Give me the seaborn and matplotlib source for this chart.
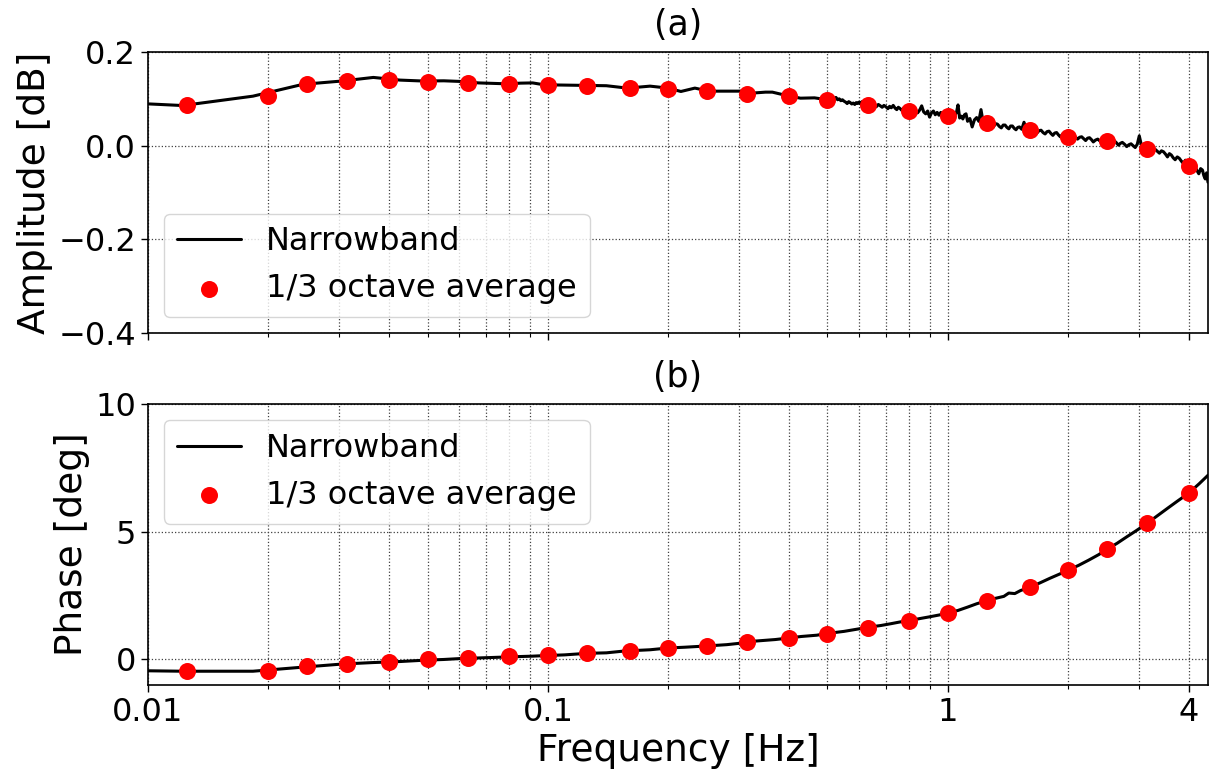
import matplotlib
matplotlib.use("Agg")
import matplotlib.pyplot as plt
import seaborn as sns
import pandas as pd
from matplotlib.ticker import FixedLocator, FixedFormatter, LogLocator, NullFormatter

# ---------------- data ----------------
# 1/3 octave band centre frequencies and averages
oct_freq = [0.0125, 0.02, 0.025, 0.0315, 0.04, 0.05, 0.063, 0.08, 0.1, 0.125, 0.16, 0.2,
            0.25, 0.315, 0.4, 0.5, 0.63, 0.8, 1.0, 1.25, 1.6, 2.0, 2.5, 3.15, 4.0]
oct_amp = [0.086, 0.105, 0.131, 0.138, 0.141, 0.136, 0.133, 0.131, 0.129, 0.128, 0.123, 0.121,
           0.116, 0.111, 0.106, 0.098, 0.087, 0.075, 0.064, 0.048, 0.034, 0.018, 0.009, -0.007, -0.044]
oct_phase = [-0.47, -0.47, -0.26, -0.17, -0.09, 0.03, 0.07, 0.12, 0.18, 0.26, 0.33, 0.46,
             0.52, 0.68, 0.84, 1.00, 1.25, 1.51, 1.83, 2.30, 2.82, 3.50, 4.31, 5.33, 6.51]

# narrowband amplitude, rows aligned with values below
nb_amp_freq = [
    0.0061, 0.0122, 0.0183, 0.0244, 0.0305, 0.0366, 0.0427, 0.0488, 0.0549, 0.061,
    0.0671, 0.0732, 0.0793, 0.0854, 0.0916, 0.0977, 0.11, 0.125, 0.14, 0.158, 0.18, 0.2,
    0.215, 0.233, 0.253, 0.286, 0.31, 0.3225, 0.35, 0.364, 0.395, 0.428, 0.464, 0.483,
    0.50, 0.505, 0.51, 0.515, 0.52, 0.525, 0.53, 0.535, 0.54, 0.545,
    0.55, 0.555, 0.56, 0.565, 0.57, 0.575, 0.58, 0.585, 0.59, 0.595,
    0.60, 0.605, 0.61, 0.615, 0.62, 0.625, 0.63, 0.635, 0.64, 0.648,
    0.655, 0.662, 0.67, 0.678, 0.685, 0.692, 0.70, 0.708, 0.715, 0.722,
    0.73, 0.738, 0.745, 0.752, 0.76, 0.768, 0.775, 0.782, 0.79, 0.798,
    0.805, 0.812, 0.82, 0.83, 0.84, 0.85, 0.86, 0.87, 0.88, 0.89,
    0.90, 0.91, 0.92, 0.93, 0.94, 0.95, 0.96, 0.97, 0.98, 0.99,
    1.00, 1.01, 1.02, 1.03, 1.04, 1.05, 1.06, 1.07, 1.08, 1.09,
    1.10, 1.11, 1.12, 1.135, 1.15, 1.165, 1.18, 1.195, 1.21, 1.225,
    1.24, 1.255, 1.27, 1.285, 1.30, 1.315, 1.33, 1.345, 1.36, 1.375,
    1.39, 1.405, 1.42, 1.435, 1.45, 1.465, 1.48, 1.495, 1.51, 1.53,
    1.55, 1.57, 1.59, 1.61, 1.63, 1.65, 1.67, 1.69, 1.71, 1.73,
    1.75, 1.77, 1.79, 1.81, 1.83, 1.85, 1.87, 1.89, 1.91, 1.935,
    1.96, 1.985, 2.01, 2.035, 2.06, 2.085, 2.11, 2.135, 2.16, 2.185,
    2.21, 2.235, 2.26, 2.285, 2.31, 2.34, 2.37, 2.40, 2.43, 2.46,
    2.49, 2.52, 2.55, 2.58, 2.61, 2.64, 2.67, 2.70, 2.73, 2.765,
    2.80, 2.835, 2.87, 2.905, 2.94, 2.975, 3.01, 3.045, 3.08, 3.115,
    3.15, 3.185, 3.22, 3.26, 3.30, 3.34, 3.38, 3.42, 3.46, 3.50,
    3.54, 3.58, 3.62, 3.66, 3.70, 3.745, 3.79, 3.835, 3.88, 3.925,
    3.97, 4.015, 4.06, 4.105, 4.15, 4.195, 4.24, 4.285, 4.33, 4.365,
    4.40, 4.435, 4.47]
nb_amp = [
    0.098, 0.0857, 0.1057, 0.131, 0.138, 0.1457, 0.140, 0.138, 0.1385, 0.137,
    0.134, 0.1329, 0.132, 0.1335, 0.134, 0.130, 0.1293, 0.1286, 0.128, 0.1229, 0.1271, 0.1229,
    0.1157, 0.1229, 0.1164, 0.1164, 0.1164, 0.1121, 0.1143, 0.1143, 0.1071, 0.1014, 0.1021, 0.1000,
    0.098, 0.100, 0.097, 0.101, 0.099, 0.103, 0.098, 0.100, 0.096, 0.098,
    0.095, 0.093, 0.090, 0.094, 0.092, 0.089, 0.091, 0.088, 0.092, 0.090,
    0.093, 0.089, 0.094, 0.090, 0.087, 0.089, 0.086, 0.090, 0.088, 0.084,
    0.087, 0.083, 0.088, 0.085, 0.082, 0.086, 0.083, 0.079, 0.084, 0.081,
    0.086, 0.080, 0.077, 0.082, 0.079, 0.075, 0.080, 0.077, 0.081, 0.074,
    0.078, 0.072, 0.077, 0.073, 0.070, 0.076, 0.085, 0.072, 0.068, 0.074,
    0.061, 0.070, 0.074, 0.066, 0.071, 0.065, 0.071, 0.067, 0.062, 0.068,
    0.064, 0.066, 0.060, 0.058, 0.065, 0.070, 0.087, 0.059, 0.063, 0.057,
    0.066, 0.068, 0.052, 0.058, 0.040, 0.055, 0.060, 0.052, 0.077, 0.050,
    0.046, 0.052, 0.050, 0.043, 0.040, 0.047, 0.046, 0.041, 0.038, 0.044,
    0.044, 0.039, 0.036, 0.042, 0.042, 0.037, 0.034, 0.039, 0.040, 0.035,
    0.050, 0.036, 0.030, 0.034, 0.036, 0.031, 0.027, 0.032, 0.033, 0.028,
    0.025, 0.030, 0.031, 0.026, 0.022, 0.027, 0.028, 0.023, 0.019, 0.024,
    0.024, 0.020, 0.016, 0.021, 0.022, 0.018, 0.014, 0.018, 0.019, 0.015,
    0.011, 0.016, 0.017, 0.013, 0.008, 0.012, 0.014, 0.010, 0.006, 0.011,
    0.012, 0.008, 0.004, 0.009, 0.010, 0.006, 0.001, 0.005, 0.007, 0.003,
    -0.002, 0.002, 0.004, 0.000, -0.004, 0.003, 0.021, 0.002, -0.006, -0.002,
    -0.004, -0.001, -0.012, -0.006, -0.008, -0.012, -0.016, -0.011, -0.013, -0.018,
    -0.024, -0.017, -0.020, -0.026, -0.030, -0.024, -0.027, -0.033, -0.038, -0.031,
    -0.033, -0.041, -0.048, -0.040, -0.045, -0.053, -0.060, -0.049, -0.052, -0.064,
    -0.071, -0.058, -0.078]

# narrowband phase
nb_ph_freq = [0.0061, 0.0122, 0.0183, 0.0244, 0.0305, 0.0366, 0.0427, 0.0488, 0.0549, 0.061,
              0.0671, 0.0732, 0.0793, 0.0916, 0.0977, 0.11, 0.125, 0.14, 0.155, 0.18, 0.2,
              0.22, 0.25, 0.28, 0.30, 0.33, 0.37, 0.40, 0.43, 0.47, 0.50, 0.55, 0.60, 0.63,
              0.68, 0.72, 0.76, 0.80, 0.85, 0.90, 0.95, 1.00, 1.06, 1.12, 1.18, 1.25, 1.32,
              1.38, 1.42, 1.47, 1.52, 1.60, 1.70, 1.80, 1.90, 2.00, 2.12, 2.25, 2.38, 2.50,
              2.65, 2.80, 2.95, 3.15, 3.35, 3.55, 3.75, 4.00, 4.25, 4.47]
nb_phase = [-0.40, -0.46, -0.46, -0.30, -0.18, -0.12, -0.08, -0.03, 0.00, 0.04,
            0.06, 0.08, 0.10, 0.13, 0.15, 0.18, 0.24, 0.26, 0.33, 0.38, 0.45,
            0.48, 0.53, 0.58, 0.63, 0.72, 0.78, 0.84, 0.90, 0.95, 1.02, 1.10, 1.20, 1.26,
            1.33, 1.40, 1.47, 1.52, 1.60, 1.67, 1.74, 1.82, 1.92, 2.05, 2.18, 2.30, 2.40,
            2.47, 2.60, 2.58, 2.70, 2.82, 3.00, 3.18, 3.34, 3.50, 3.68, 3.89, 4.10, 4.31,
            4.55, 4.80, 5.03, 5.33, 5.64, 5.93, 6.20, 6.51, 6.88, 7.21]

xtick_vals = [0.01, 0.1, 1, 4]
xtick_labels = ["0.01", "0.1", "1", "4"]

# ---------------- plot ----------------
sns.set_theme(style="ticks")
plt.rcParams["font.family"] = ["DejaVu Sans"]
for k in ["text.color", "axes.labelcolor", "xtick.color", "ytick.color", "axes.edgecolor"]:
    plt.rcParams[k] = "black"
plt.rcParams["xtick.direction"] = "out"
plt.rcParams["ytick.direction"] = "out"

fig, (ax1, ax2) = plt.subplots(2, 1, figsize=(12.11, 7.75), dpi=100, sharex=True)
fig.subplots_adjust(left=0.1222, right=0.9975, top=0.9329, bottom=0.1161, hspace=0.2527)

df_amp = pd.DataFrame({"f": nb_amp_freq, "v": nb_amp})
df_ph = pd.DataFrame({"f": nb_ph_freq, "v": nb_phase})
df_oa = pd.DataFrame({"f": oct_freq, "v": oct_amp})
df_op = pd.DataFrame({"f": oct_freq, "v": oct_phase})

tick_fs = 23
label_fs = 27
title_fs = 25

for ax, dnb, doct, ylab, ylim, yt, title, loc in [
    (ax1, df_amp, df_oa, "Amplitude [dB]", (-0.4, 0.2), [-0.4, -0.2, 0.0, 0.2], "(a)", "lower left"),
    (ax2, df_ph, df_op, "Phase [deg]", (-1, 10), [0, 5, 10], "(b)", "upper left"),
]:
    sns.lineplot(data=dnb, x="f", y="v", ax=ax, color="black", linewidth=2.2,
                 estimator=None, sort=False, label="Narrowband", zorder=3)
    sns.scatterplot(data=doct, x="f", y="v", ax=ax, color="red", s=150, linewidth=0,
                    label="1/3 octave average", zorder=4)
    ax.set_xscale("log")
    ax.set_xlim(0.01, 4.47)
    ax.set_ylim(*ylim)
    ax.set_yticks(yt)
    ax.set_ylabel(ylab, fontsize=label_fs)
    ax.set_xlabel("")
    ax.set_title(title, fontsize=title_fs, pad=12)
    ax.xaxis.set_major_locator(FixedLocator(xtick_vals))
    ax.xaxis.set_major_formatter(FixedFormatter(xtick_labels))
    ax.xaxis.set_minor_locator(LogLocator(base=10, subs=[2, 3, 4, 5, 6, 7, 8, 9], numticks=20))
    ax.xaxis.set_minor_formatter(NullFormatter())
    ax.tick_params(axis="both", which="major", labelsize=tick_fs, length=5, width=1, color="black")
    ax.tick_params(axis="x", which="minor", length=3, width=0.8, color="black")
    ax.grid(True, which="both", axis="x", linestyle=":", color="0.25", linewidth=0.9)
    ax.grid(True, which="major", axis="y", linestyle=":", color="0.25", linewidth=0.9)
    for sp in ax.spines.values():
        sp.set_visible(True)
        sp.set_color("black")
        sp.set_linewidth(1.2)
    leg = ax.legend(loc=loc, fontsize=tick_fs, frameon=True, fancybox=True,
                    framealpha=0.8, edgecolor="0.8", handlelength=2.0, markerscale=1.0)
    leg.get_frame().set_linewidth(1.0)
    for t in leg.get_texts():
        t.set_color("black")

ax1.tick_params(axis="x", labelbottom=False)
ax2.set_xlabel("Frequency [Hz]", fontsize=label_fs)

fig.savefig("out.png", dpi=100)
